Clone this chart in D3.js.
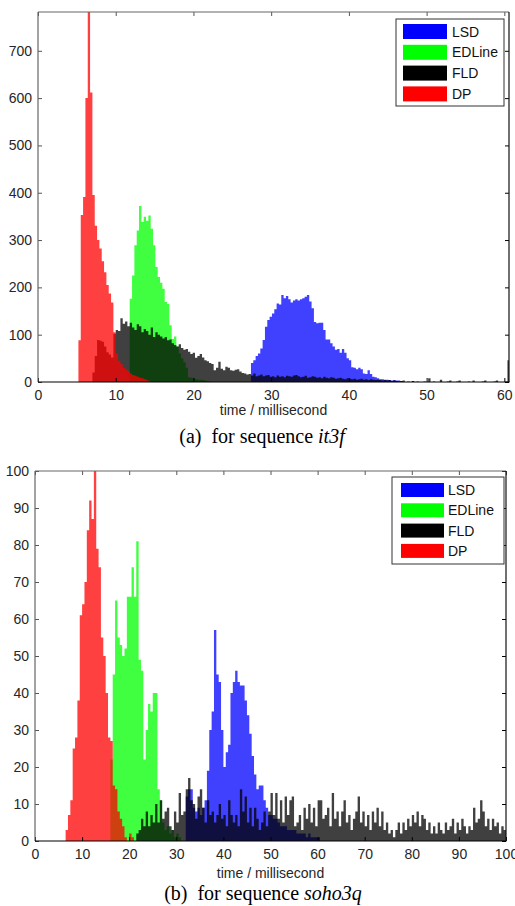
<!DOCTYPE html>
<html><head><meta charset="utf-8">
<script src="https://cdn.jsdelivr.net/npm/d3@7"></script>
<style>body{margin:0;background:#fff}svg{display:block}</style>
</head><body>
<svg id="c" width="515" height="906"></svg>
<script>
// ---------- DATA ----------
const seriesNames = ["LSD", "EDLine", "FLD", "DP"];
const seriesColors = ["#0000ff", "#00ff00", "#000000", "#ff0000"];

// Panel (a): it3f  — histogram counts, bin width 0.3 ms
const a_binWidth = 0.3;
const a_xTicks = [0, 10, 20, 30, 40, 50, 60];
const a_yTicks = [0, 100, 200, 300, 400, 500, 600, 700];
const a_starts = [27.4, 11.8, 7.0, 5.2]; // LSD, EDLine, FLD, DP
const a_LSD = [40,46,55,60,71,89,117,131,138,145,
  154,166,164,184,177,182,175,168,172,175,
  172,175,177,180,184,170,156,127,124,125,
  125,110,90,90,82,75,68,70,62,70,
  62,50,46,31,30,27,30,27,18,17,
  25,17,11,10,8,6,6,5,5,4,
  3,4,3,3,2,0,0,0,0,2];
const a_EDLine = [176,225,289,320,372,338,349,341,352,324,
  289,243,222,210,197,169,165,120,91,96,
  75,60,50,42,30,10,9,8,6,5,
  5,4,3,2,1];
const a_FLD = [20,55,89,87,85,75,63,58,52,102,
  110,108,135,123,128,118,125,115,110,122,
  118,105,112,108,100,115,95,105,100,96,
  92,95,88,90,82,78,75,80,72,68,
  70,64,59,62,51,55,59,52,46,44,
  40,38,25,30,43,28,25,32,30,25,
  24,26,27,22,19,18,16,17,14,18,
  12,14,16,12,14,15,11,12,10,14,
  11,12,10,13,12,11,14,15,12,10,
  11,13,9,10,12,11,9,10,8,11,
  9,8,10,9,7,8,9,7,6,8,
  7,6,7,5,6,7,5,6,4,6,
  5,4,5,4,3,4,3,4,2,3,
  2,1,2,3,0,1,0,2,0,1,
  0,0,1,0,8,0,1,0,0,5,
  0,0,1,3,0,0,1,3,0,0,
  0,1,0,3,0,0,0,1,3,0,
  0,0,1,3,0,0,0,1,46];
const a_DP = [88,353,391,600,800,612,395,330,300,282,
  255,232,205,187,168,105,60,45,38,30,
  27,22,18,15,13,11,9,8,6,4,2];

// Panel (b): soho3q — histogram counts, bin width 0.5 ms
const b_binWidth = 0.5;
const b_xTicks = [0, 10, 20, 30, 40, 50, 60, 70, 80, 90, 100];
const b_yTicks = [0, 10, 20, 30, 40, 50, 60, 70, 80, 90, 100];
const b_starts = [32.0, 16.0, 21.5, 6.5]; // LSD, EDLine, FLD, DP
const b_LSD = [12,14,14,9,8,9,7,9,11,19,
  30,35,57,45,43,30,20,24,26,40,
  43,46,43,42,42,38,34,29,23,18,
  14,15,15,11,9,7,7,6,6,5,
  4,4,4,3,3,3,3,2,2,2,
  2,1,2,1,1,1,1];
const b_EDLine = [22,45,65,55,53,50,52,66,66,74,
  66,81,49,46,22,30,37,35,40,40,
  14,11,5,3,4,2,3,1,2,1];
const b_FLD = [2,3,6,4,8,4,7,5,10,5,
  11,6,8,9,4,3,8,5,13,7,
  8,14,17,11,10,6,12,14,9,5,
  11,7,8,5,7,10,6,7,4,11,
  7,5,7,4,14,8,12,5,9,4,
  9,6,3,5,8,4,8,13,7,13,
  6,11,5,12,7,11,12,4,5,7,
  3,9,6,10,5,9,4,11,11,6,
  7,9,4,13,6,8,4,8,11,5,
  7,3,6,8,12,5,8,4,7,3,
  8,5,9,4,8,3,5,2,3,1,
  3,5,2,5,3,6,4,7,5,8,
  4,7,6,3,5,2,4,2,5,3,
  2,5,3,4,6,2,5,3,6,4,
  2,4,3,9,5,6,11,8,4,6,
  3,6,4,5,2,4,3];
const b_DP = [3,7,11,25,28,38,61,64,70,84,
  92,87,100,79,74,55,50,40,28,27,
  15,14,8,6,4,1,0,2,1];

const xLabel = "time / millisecond";

// ---------- DRAW ----------
const svg = d3.select("#c");
const FONT = "'Liberation Sans', Arial, Helvetica, sans-serif";
const SERIF = "'Liberation Serif', 'Times New Roman', Times, serif";

function drawPanel(p) {
  const x = d3.scaleLinear().domain(p.xDomain).range([p.left, p.right]);
  const y = d3.scaleLinear().domain(p.yDomain).range([p.bottom, p.top]);
  const clipId = "clip" + p.id;
  svg.append("clipPath").attr("id", clipId).append("rect")
    .attr("x", p.left).attr("y", p.top)
    .attr("width", p.right - p.left).attr("height", p.bottom - p.top);
  const g = svg.append("g").attr("clip-path", `url(#${clipId})`);
  const area = d3.area().curve(d3.curveStepAfter)
    .x(d => x(d.t)).y0(y(0)).y1(d => y(d.v));
  p.series.forEach((vals, k) => {
    const pts = vals.map((v, i) => ({ t: p.starts[k] + i * p.bin, v }));
    pts.push({ t: p.starts[k] + vals.length * p.bin, v: vals[vals.length - 1] });
    g.append("path").attr("d", area(pts))
      .attr("fill", seriesColors[k]).attr("fill-opacity", 0.75);
  });

  // axes (MATLAB-style box, inward ticks)
  const styleAxis = (sel, col) => {
    sel.select(".domain").remove();
    sel.selectAll(".tick line").attr("stroke", col);
    sel.selectAll(".tick text").attr("fill", "#262626")
      .style("font-family", FONT).style("font-size", "14px");
  };
  const bottomAx = svg.append("g").attr("transform", `translate(0,${p.bottom})`)
    .call(d3.axisBottom(x).tickValues(p.xTicks).tickSize(-4).tickPadding(8).tickFormat(d3.format("d")));
  styleAxis(bottomAx, "#000");
  const topAx = svg.append("g").attr("transform", `translate(0,${p.top})`)
    .call(d3.axisTop(x).tickValues(p.xTicks).tickSize(-4).tickFormat(""));
  styleAxis(topAx, "#555");
  const leftAx = svg.append("g").attr("transform", `translate(${p.left},0)`)
    .call(d3.axisLeft(y).tickValues(p.yTicks).tickSize(-4).tickPadding(6).tickFormat(d3.format("d")));
  styleAxis(leftAx, "#555");
  const rightAx = svg.append("g").attr("transform", `translate(${p.right},0)`)
    .call(d3.axisRight(y).tickValues(p.yTicks).tickSize(-4).tickFormat(""));
  styleAxis(rightAx, "#000");

  const line = (x1, y1, x2, y2, c) => svg.append("line")
    .attr("x1", x1).attr("y1", y1).attr("x2", x2).attr("y2", y2)
    .attr("stroke", c).attr("stroke-width", 1.2);
  line(p.left, p.top, p.right, p.top, "#666");
  line(p.left, p.top, p.left, p.bottom, "#666");
  line(p.left, p.bottom, p.right + 0.5, p.bottom, "#000");
  line(p.right, p.top, p.right, p.bottom, "#111");

  // x label
  svg.append("text").attr("x", (p.left + p.right) / 2).attr("y", p.xLabelY)
    .attr("text-anchor", "middle").attr("fill", "#262626")
    .style("font-family", FONT).style("font-size", "14px").text(xLabel);

  // legend
  const L = p.legend;
  svg.append("rect").attr("x", L.x).attr("y", L.y).attr("width", L.w).attr("height", L.h)
    .attr("fill", "#fff").attr("stroke", "#333").attr("stroke-width", 1);
  seriesNames.forEach((n, k) => {
    const sy = L.y + L.pad + k * L.step;
    svg.append("rect").attr("x", L.sx).attr("y", sy).attr("width", L.sw).attr("height", L.sh)
      .attr("fill", seriesColors[k]);
    svg.append("text").attr("x", L.tx).attr("y", sy + L.sh / 2 + 5)
      .attr("fill", "#111").style("font-family", FONT).style("font-size", "14px").text(n);
  });

  // caption
  const cap = svg.append("text").attr("x", p.capX).attr("y", p.capY)
    .attr("text-anchor", "middle").attr("fill", "#000")
    .style("font-family", SERIF).style("font-size", "20px");
  cap.append("tspan").text(p.capLabel + "\u00a0\u00a0for sequence ");
  cap.append("tspan").style("font-style", "italic").text(p.capSeq);
}

drawPanel({
  id: "a", left: 38, right: 509, top: 12, bottom: 382,
  xDomain: [0, 60.6], yDomain: [0, 782],
  xTicks: a_xTicks, yTicks: a_yTicks,
  bin: a_binWidth, starts: a_starts,
  series: [a_LSD, a_EDLine, a_FLD, a_DP],
  xLabelY: 415,
  legend: { x: 396, y: 19, w: 108, h: 87, pad: 5, step: 20.8, sx: 403, sw: 44, sh: 15, tx: 452 },
  capX: 262, capY: 443, capLabel: "(a)", capSeq: "it3f"
});

drawPanel({
  id: "b", left: 35, right: 506, top: 471, bottom: 841,
  xDomain: [0, 100], yDomain: [0, 100],
  xTicks: b_xTicks, yTicks: b_yTicks,
  bin: b_binWidth, starts: b_starts,
  series: [b_LSD, b_EDLine, b_FLD, b_DP],
  xLabelY: 878,
  legend: { x: 392, y: 477, w: 112, h: 87, pad: 6, step: 20.3, sx: 401, sw: 43, sh: 14, tx: 448 },
  capX: 263, capY: 900, capLabel: "(b)", capSeq: "soho3q"
});
</script>
</body></html>
